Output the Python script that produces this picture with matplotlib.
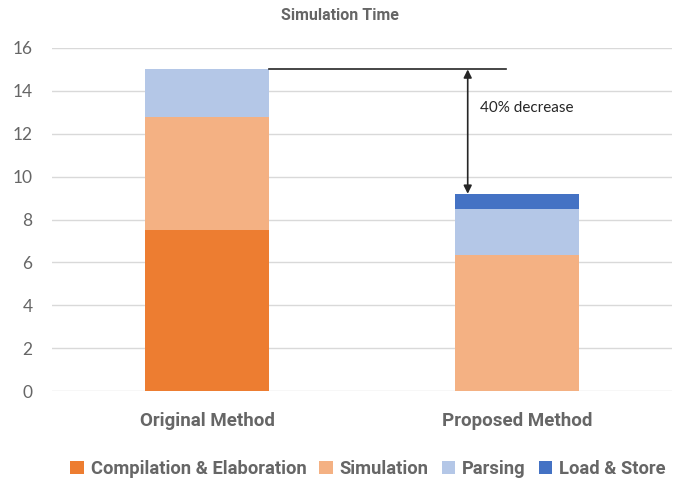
import matplotlib
matplotlib.use("Agg")
import matplotlib.pyplot as plt
import numpy as np

categories = ["Original Method", "Proposed Method"]
series_names = ["Compilation & Elaboration", "Simulation", "Parsing", "Load & Store"]
compilation = [7.5, 0.0]
simulation = [5.3, 6.35]
parsing = [2.2, 2.15]
load_store = [0.0, 0.7]
colors = ["#ED7D31", "#F4B183", "#B4C7E7", "#4472C4"]
yticks = [0, 2, 4, 6, 8, 10, 12, 14, 16]
annotation_text = "40% decrease"

plt.rcParams['font.family'] = ['Lato', 'DejaVu Sans']
bold_family = ['Roboto', 'DejaVu Sans']
txt = "#666666"

fig = plt.figure(figsize=(6.8, 4.83), dpi=100)
ax = fig.add_axes([52/680, (483-391)/483, 620/680, 343/483])

x = np.arange(len(categories))
width = 0.4
bottom = np.zeros(len(categories))
for name, vals, c in zip(series_names, [compilation, simulation, parsing, load_store], colors):
    vals = np.array(vals)
    ax.bar(x, vals, width, bottom=bottom, color=c, label=name, zorder=3)
    bottom += vals

ax.set_xlim(-0.5, 1.5)
ax.set_ylim(0, 16)
ax.set_yticks(yticks)
ax.yaxis.grid(True, color="#D9D9D9", linewidth=1, zorder=0)
for s in ax.spines.values():
    s.set_visible(False)
ax.tick_params(axis='y', length=0, labelsize=12.5, labelcolor=txt, pad=14)
ax.tick_params(axis='x', length=0, pad=15)
ax.set_xticks(x)
ax.set_xticklabels(categories, fontsize=13.5, fontweight='bold', color=txt, family=bold_family)

total_orig = bottom[0]
total_new = bottom[1]
ax.plot([width/2, 0.965], [total_orig, total_orig], color="#262626", lw=1.2, zorder=4)
ax.annotate("", xy=(0.841, total_new), xytext=(0.841, total_orig),
            arrowprops=dict(arrowstyle="<|-|>", color="#262626", lw=1.2,
                            shrinkA=0, shrinkB=0, mutation_scale=12), zorder=5)
ax.text(0.88, 13.2, annotation_text, fontsize=11, color="#262626", va='center', ha='left')

fig.text(0.5, 1 - 15/483, "Simulation Time", ha='center', va='center',
         fontsize=11.5, fontweight='bold', color=txt, family=bold_family)

leg = fig.legend(loc='center', bbox_to_anchor=(0.541, 1 - 469/483), ncol=4, frameon=False,
                 handlelength=0.75, handleheight=0.75, handletextpad=0.37, columnspacing=0.7,
                 prop={'size': 13.2, 'weight': 'bold', 'family': bold_family})
for t in leg.get_texts():
    t.set_color(txt)

fig.savefig("out.png", dpi=100)
